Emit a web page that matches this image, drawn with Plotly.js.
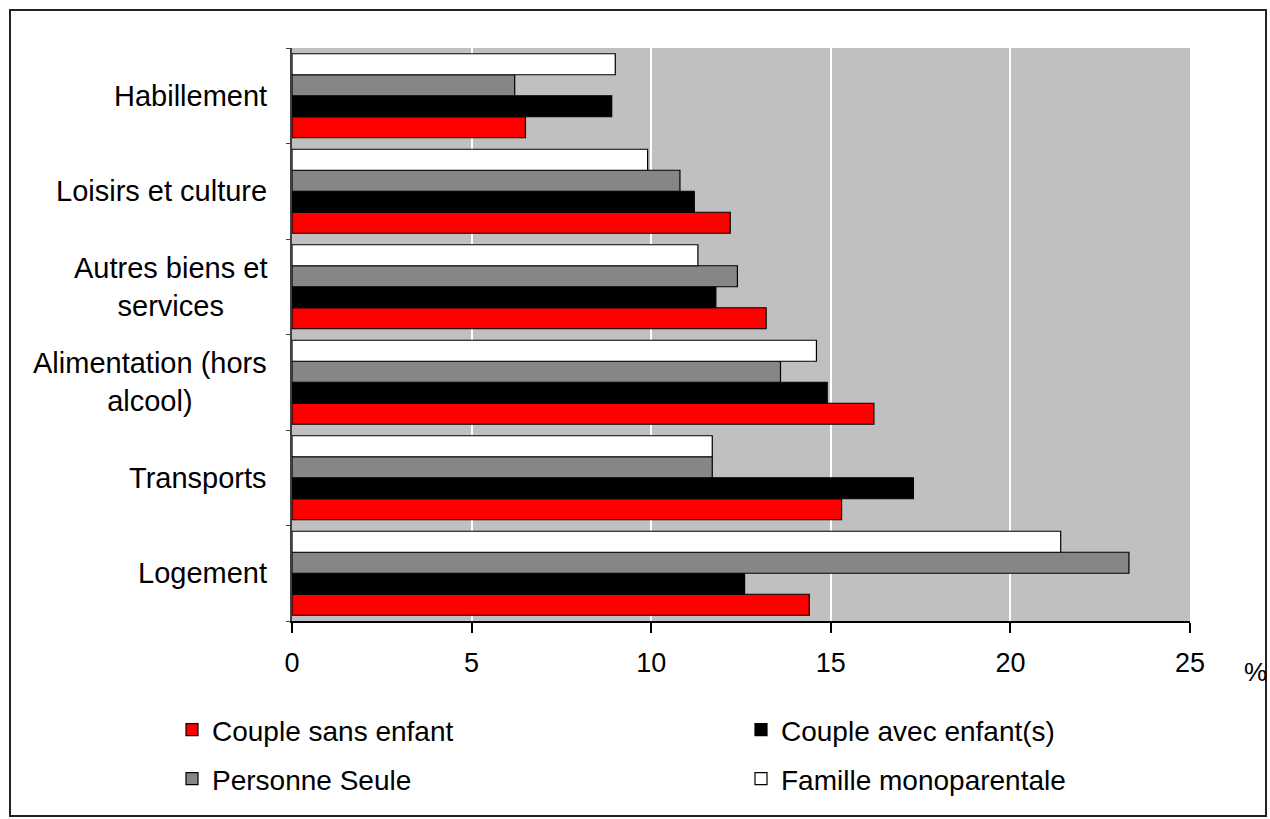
<!DOCTYPE html>
<html>
<head>
<meta charset="utf-8">
<script src="https://cdn.plot.ly/plotly-3.0.1.min.js"></script>
<style>
html, body { margin: 0; padding: 0; background: #fff; }
#chart { width: 1270px; height: 819px; }
</style>
</head>
<body>
<div id="chart"></div>
<script>
// Categories listed bottom to top
var categories = ['Logement', 'Transports', 'Alimentation (hors<br>alcool)', 'Autres biens et<br>services', 'Loisirs et culture', 'Habillement'];
var seriesNames = ['Couple sans enfant', 'Couple avec enfant(s)', 'Personne Seule', 'Famille monoparentale'];
var coupleSansEnfant = [14.4, 15.3, 16.2, 13.2, 12.2, 6.5];
var coupleAvecEnfants = [12.6, 17.3, 14.9, 11.8, 11.2, 8.9];
var personneSeule = [23.3, 11.7, 13.6, 12.4, 10.8, 6.2];
var familleMonoparentale = [21.4, 11.7, 14.6, 11.3, 9.9, 9.0];
var xTicks = [0, 5, 10, 15, 20, 25];
var unitLabel = '%';

var FONT = 'Arial, "Liberation Sans", sans-serif';
var W = 1270, H = 819;
var M = {l: 292, r: 80, t: 48, b: 198};
var pw = W - M.l - M.r, ph = H - M.t - M.b;
function px(x) { return (x - M.l) / pw; }
function py(y) { return (H - M.b - y) / ph; }

function bar(name, vals, color, legend) {
  return {
    type: 'bar', orientation: 'h', name: name, x: vals, y: categories,
    marker: {color: color, line: {color: '#000', width: 1.2}},
    legend: legend, hoverinfo: 'x+name'
  };
}

var data = [
  bar(seriesNames[0], coupleSansEnfant, '#ff0000', 'legend'),
  bar(seriesNames[1], coupleAvecEnfants, '#000000', 'legend2'),
  bar(seriesNames[2], personneSeule, '#868686', 'legend3'),
  bar(seriesNames[3], familleMonoparentale, '#ffffff', 'legend4')
];

var annotations = categories.map(function (c) {
  return {
    text: c, xref: 'paper', yref: 'y', x: px(269), y: c,
    xanchor: 'right', yanchor: 'middle', align: 'center', showarrow: false,
    font: {family: FONT, size: 29, color: '#000'}
  };
});
annotations.push({
  text: unitLabel, xref: 'paper', yref: 'paper', x: px(1255), y: py(672),
  xanchor: 'center', yanchor: 'middle', showarrow: false,
  font: {family: FONT, size: 26, color: '#000'}
});

function leg(xPix, yPix) {
  return {
    orientation: 'h', xref: 'container', yref: 'container',
    xanchor: 'left', yanchor: 'middle', x: xPix / W, y: 1 - yPix / H,
    font: {family: FONT, size: 28, color: '#000'},
    bgcolor: 'rgba(0,0,0,0)',
    itemclick: false, itemdoubleclick: false
  };
}

var layout = {
  width: W, height: H,
  margin: M,
  paper_bgcolor: '#ffffff',
  plot_bgcolor: '#c0c0c0',
  barmode: 'group',
  bargap: 0.12,
  bargroupgap: 0,
  showlegend: true,
  legend: leg(172, 730),
  legend2: leg(741, 730),
  legend3: leg(172, 779),
  legend4: leg(741, 779),
  xaxis: {
    range: [0, 25], tickvals: xTicks, ticktext: xTicks.map(String),
    ticks: 'outside', ticklen: 10, tickwidth: 2, tickcolor: '#000',
    showline: true, linecolor: '#000', linewidth: 2,
    showgrid: true, gridcolor: '#ffffff', gridwidth: 2,
    zeroline: false, ticklabelstandoff: 7,
    tickfont: {family: FONT, size: 27, color: '#000'},
    fixedrange: true
  },
  yaxis: {
    type: 'category', showticklabels: false,
    showline: true, linecolor: '#404040', linewidth: 2,
    ticks: 'outside', tickson: 'boundaries', ticklen: 4, tickcolor: '#404040',
    showgrid: false, zeroline: false, fixedrange: true
  },
  annotations: annotations,
  shapes: [{
    type: 'rect', xref: 'paper', yref: 'paper',
    x0: px(10), x1: px(1266), y0: py(816), y1: py(10),
    line: {color: '#222', width: 2}, fillcolor: 'rgba(0,0,0,0)', layer: 'above'
  }]
};

Plotly.newPlot('chart', data, layout, {displayModeBar: false});
</script>
</body>
</html>
